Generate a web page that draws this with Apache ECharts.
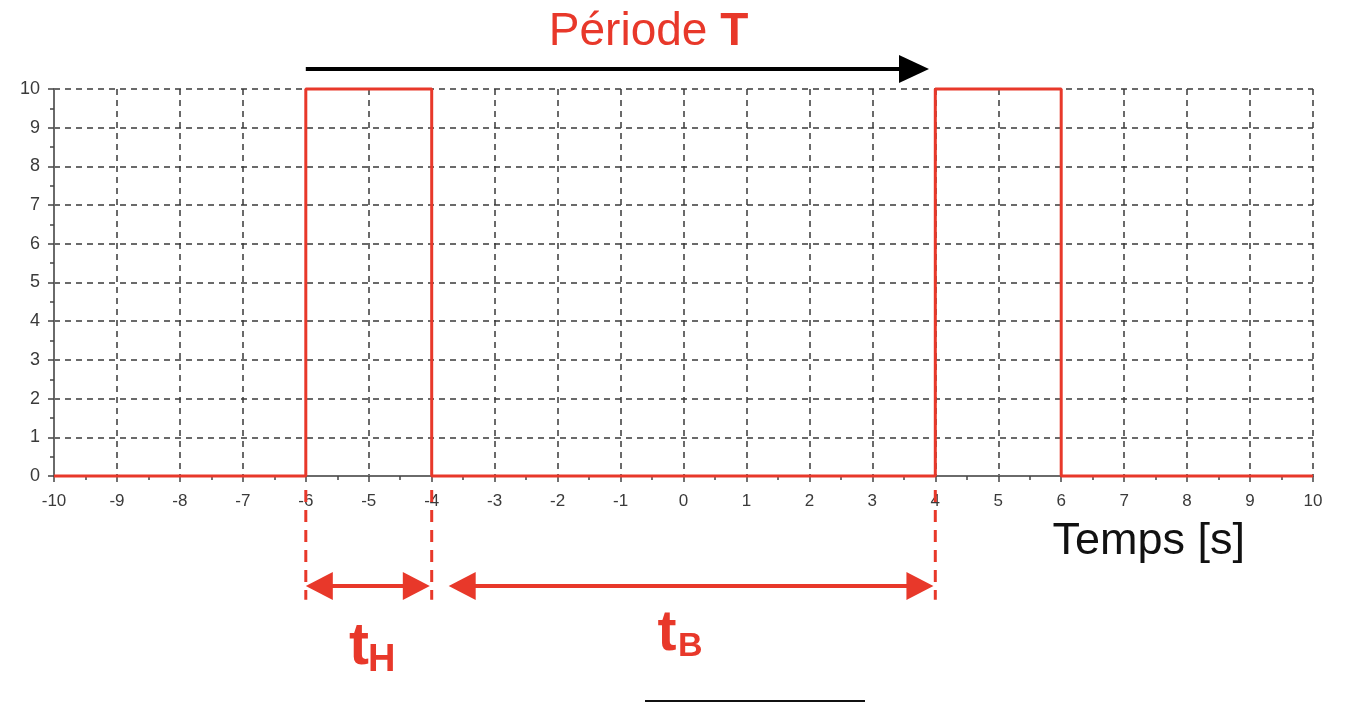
<!DOCTYPE html>
<html><head><meta charset="utf-8">
<script src="https://cdn.jsdelivr.net/npm/echarts@6/dist/echarts.min.js"></script>
<style>html,body{margin:0;padding:0;background:#fff}#c{width:1350px;height:702px}</style>
</head><body><div id="c"></div>
<script>
// square wave data (time [s], level)
const times  = [-10, -6, -6, -4, -4, 4, 4, 6, 6, 10];
const levels = [0, 0, 10, 10, 0, 0, 10, 10, 0, 0];
// axis ranges
const xRange = [-10, 10];
const yRange = [0, 10];
// annotation positions (data units)
const periodArrow = [-6, 3.9, 10.52];     // x start, x tip, y
const dashedMarks = [-6, -4, 4];           // red dashed vertical guides
const dashedSpan  = [-0.36, -3.2];         // y from, y to
const tHArrow = [-6, -4.03, -2.84];
const tBArrow = [-3.73, 3.97, -2.84];
const texts = {title: 'Période', titleBold: 'T', xName: 'Temps [s]', tH: ['t', 'H'], tB: ['t', 'B']};

const RED = '#e8382a';
const FONT = 'Liberation Sans, Arial, sans-serif';
const chart = echarts.init(document.getElementById('c'), null, {renderer: 'canvas'});
const axisCommon = {
  axisLine: {show: true, onZero: false, lineStyle: {color: '#6a6a6a', width: 2}},
  axisTick: {show: true, length: 6, lineStyle: {color: '#444', width: 1.5}},
  minorTick: {show: true, splitNumber: 2, length: 4, lineStyle: {color: '#444', width: 1.5}},
  splitLine: {show: true, lineStyle: {color: '#3a3a3a', width: 1.5, type: [6, 5]}},
  axisLabel: {color: '#3a3a3a', fontSize: 18, fontFamily: FONT, margin: 14}
};
chart.setOption({
  animation: false,
  backgroundColor: '#fff',
  grid: {left: 54, right: 37, top: 89, bottom: 226, containLabel: false, outerBoundsMode: 'none'},
  xAxis: Object.assign({type: 'value', min: xRange[0], max: xRange[1], interval: 1}, axisCommon,
    {axisLabel: Object.assign({}, axisCommon.axisLabel, {fontSize: 17, margin: 17})}),
  yAxis: Object.assign({type: 'value', min: yRange[0], max: yRange[1], interval: 1}, axisCommon),
  series: [{
    type: 'line', data: times.map((t, i) => [t, levels[i]]),
    showSymbol: false, symbol: 'none', clip: false,
    lineStyle: {color: RED, width: 3}, z: 5
  }]
});

function px(x, y) { return chart.convertToPixel({gridIndex: 0}, [x, y]); }
function arrowHead(tip, dir, len, half, color) {
  return {type: 'polygon', shape: {points: [[tip[0], tip[1]], [tip[0] - dir * len, tip[1] - half], [tip[0] - dir * len, tip[1] + half]]},
    style: {fill: color}, z: 20};
}
function dblArrow(a, color) {
  const p1 = px(a[0], a[2]), p2 = px(a[1], a[2]);
  return [
    {type: 'line', shape: {x1: p1[0] + 20, y1: p1[1], x2: p2[0] - 20, y2: p2[1]}, style: {stroke: color, lineWidth: 4}, z: 20},
    arrowHead(p1, -1, 27, 14, color),
    arrowHead(p2, 1, 27, 14, color)
  ];
}
const g = [];
// period arrow
const pa = px(periodArrow[0], periodArrow[2]), pb = px(periodArrow[1], periodArrow[2]);
g.push({type: 'line', shape: {x1: pa[0], y1: pa[1], x2: pb[0] - 20, y2: pb[1]}, style: {stroke: '#000', lineWidth: 4}, z: 20});
g.push(arrowHead(pb, 1, 30, 14, '#000'));
// dashed guides
dashedMarks.forEach(x => {
  const a = px(x, dashedSpan[0]), b = px(x, dashedSpan[1]);
  g.push({type: 'line', shape: {x1: a[0], y1: a[1], x2: b[0], y2: b[1]}, style: {stroke: RED, lineWidth: 3, lineDash: [12, 8]}, z: 20});
});
dblArrow(tHArrow, RED).forEach(e => g.push(e));
dblArrow(tBArrow, RED).forEach(e => g.push(e));
// title
const mid = px(-0.555, 11.47);
g.push({type: 'text', x: mid[0], y: mid[1], style: {
  text: '{a|' + texts.title + '\u00a0}{b|' + texts.titleBold + '}', align: 'center', verticalAlign: 'middle',
  rich: {a: {fontSize: 46, fontFamily: FONT, fill: RED},
         b: {fontSize: 46, fontWeight: 'bold', fontFamily: FONT, fill: RED}},
  fill: RED}, z: 30});
// x axis name
const xn = px(5.86, -1.7);
g.push({type: 'text', x: xn[0], y: xn[1], style: {text: texts.xName, fontSize: 45, fontFamily: FONT, fill: '#111', align: 'left', verticalAlign: 'middle'}, z: 30});
// tH / tB labels
function subLabel(pair, cx, cy, fontMain, fontSub, subDx, subDy) {
  const p = px(cx, cy);
  return [
    {type: 'text', x: p[0], y: p[1], style: {text: pair[0], fontSize: fontMain, fontWeight: 'bold', fontFamily: FONT, fill: RED, align: 'center', verticalAlign: 'middle'}, z: 30},
    {type: 'text', x: p[0] + subDx, y: p[1] + subDy, style: {text: pair[1], fontSize: fontSub, fontWeight: 'bold', fontFamily: FONT, fill: RED, align: 'left', verticalAlign: 'middle'}, z: 30}
  ];
}
subLabel(texts.tH, -5.155, -4.43, 60, 38, 9, 13.5).forEach(e => g.push(e));
subLabel(texts.tB, -0.262, -4.08, 57, 34, 11, 13).forEach(e => g.push(e));
// bottom black bar (decoration)
g.push({type: 'line', shape: {x1: 645, y1: 701, x2: 865, y2: 701}, style: {stroke: '#111', lineWidth: 2}, z: 30});
chart.setOption({graphic: g});
</script></body></html>
